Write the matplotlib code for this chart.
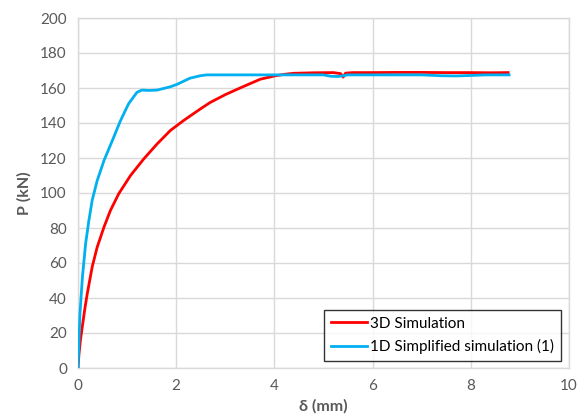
import matplotlib
matplotlib.use("Agg")
import matplotlib.pyplot as plt

plt.rcParams['font.family'] = ['Lato', 'DejaVu Sans']

# 3D Simulation (red)
red_x = [0.0, 0.02, 0.05, 0.088, 0.14, 0.19, 0.29, 0.39, 0.53, 0.66, 0.83, 1.07, 1.34, 1.61, 1.88, 2.15, 2.49, 2.69, 3.0, 3.3, 3.71, 4.02, 4.2, 4.39, 4.8, 5.2, 5.35, 5.4, 5.45, 5.6, 6.0, 6.5, 7.0, 7.5, 8.0, 8.4, 8.76]
red_y = [0.0, 8.0, 16.0, 23.7, 34.0, 42.7, 57.9, 69.0, 80.6, 90.0, 99.6, 110.0, 119.5, 128.0, 135.7, 141.4, 148.0, 151.7, 156.2, 160.0, 165.0, 167.0, 167.8, 168.4, 168.7, 168.8, 168.2, 166.2, 168.5, 168.8, 168.8, 168.9, 168.9, 168.8, 168.8, 168.7, 168.8]

# 1D Simplified simulation (1) (blue)
blue_x = [0.0, 0.02, 0.04, 0.09, 0.155, 0.22, 0.29, 0.39, 0.53, 0.7, 0.86, 1.03, 1.2, 1.3, 1.45, 1.61, 1.88, 2.01, 2.28, 2.49, 2.62, 3.0, 4.0, 5.0, 5.15, 5.3, 5.4, 5.5, 6.0, 7.0, 7.4, 7.7, 8.05, 8.3, 8.78]
blue_y = [0.0, 16.0, 31.0, 52.0, 71.0, 84.0, 96.0, 107.0, 118.6, 130.0, 141.0, 151.0, 157.5, 158.8, 158.6, 158.8, 160.7, 162.0, 165.6, 167.0, 167.5, 167.5, 167.5, 167.5, 166.7, 166.6, 167.0, 167.5, 167.5, 167.5, 167.0, 166.9, 167.2, 167.5, 167.5]

x_ticks = [0, 2, 4, 6, 8, 10]
y_ticks = [0, 20, 40, 60, 80, 100, 120, 140, 160, 180, 200]

fig = plt.figure(figsize=(5.78, 4.2), dpi=100)
ax = fig.add_axes([78/578, 52/420, 491/578, 350/420])

ax.plot(red_x, red_y, color='#FF0000', lw=2.0, label='3D Simulation', zorder=3)
ax.plot(blue_x, blue_y, color='#00B0F0', lw=2.0, label='1D Simplified simulation (1)', zorder=4)

ax.set_xlim(0, 10)
ax.set_ylim(0, 200)
ax.set_xticks(x_ticks)
ax.set_yticks(y_ticks)
ax.grid(True, color='#D9D9D9', lw=1.0)
ax.set_axisbelow(True)
for s in ax.spines.values():
    s.set_color('#D9D9D9')
    s.set_linewidth(1.0)
ax.tick_params(length=0, labelsize=11, colors='#595959', pad=8)

ax.set_xlabel('δ (mm)', fontsize=11.5, fontweight='bold', color='#595959', labelpad=4)
ax.set_ylabel('P (kN)', fontsize=11.5, fontweight='bold', color='#595959', labelpad=6)

leg = ax.legend(loc='lower right', bbox_to_anchor=(0.984, 0.02), fontsize=11, frameon=True,
                fancybox=False, edgecolor='black', handlelength=2.4, handletextpad=0.2,
                borderpad=0.45, labelspacing=0.55, borderaxespad=0.0)
leg.get_frame().set_linewidth(1.0)

fig.savefig('out.png', dpi=100)
